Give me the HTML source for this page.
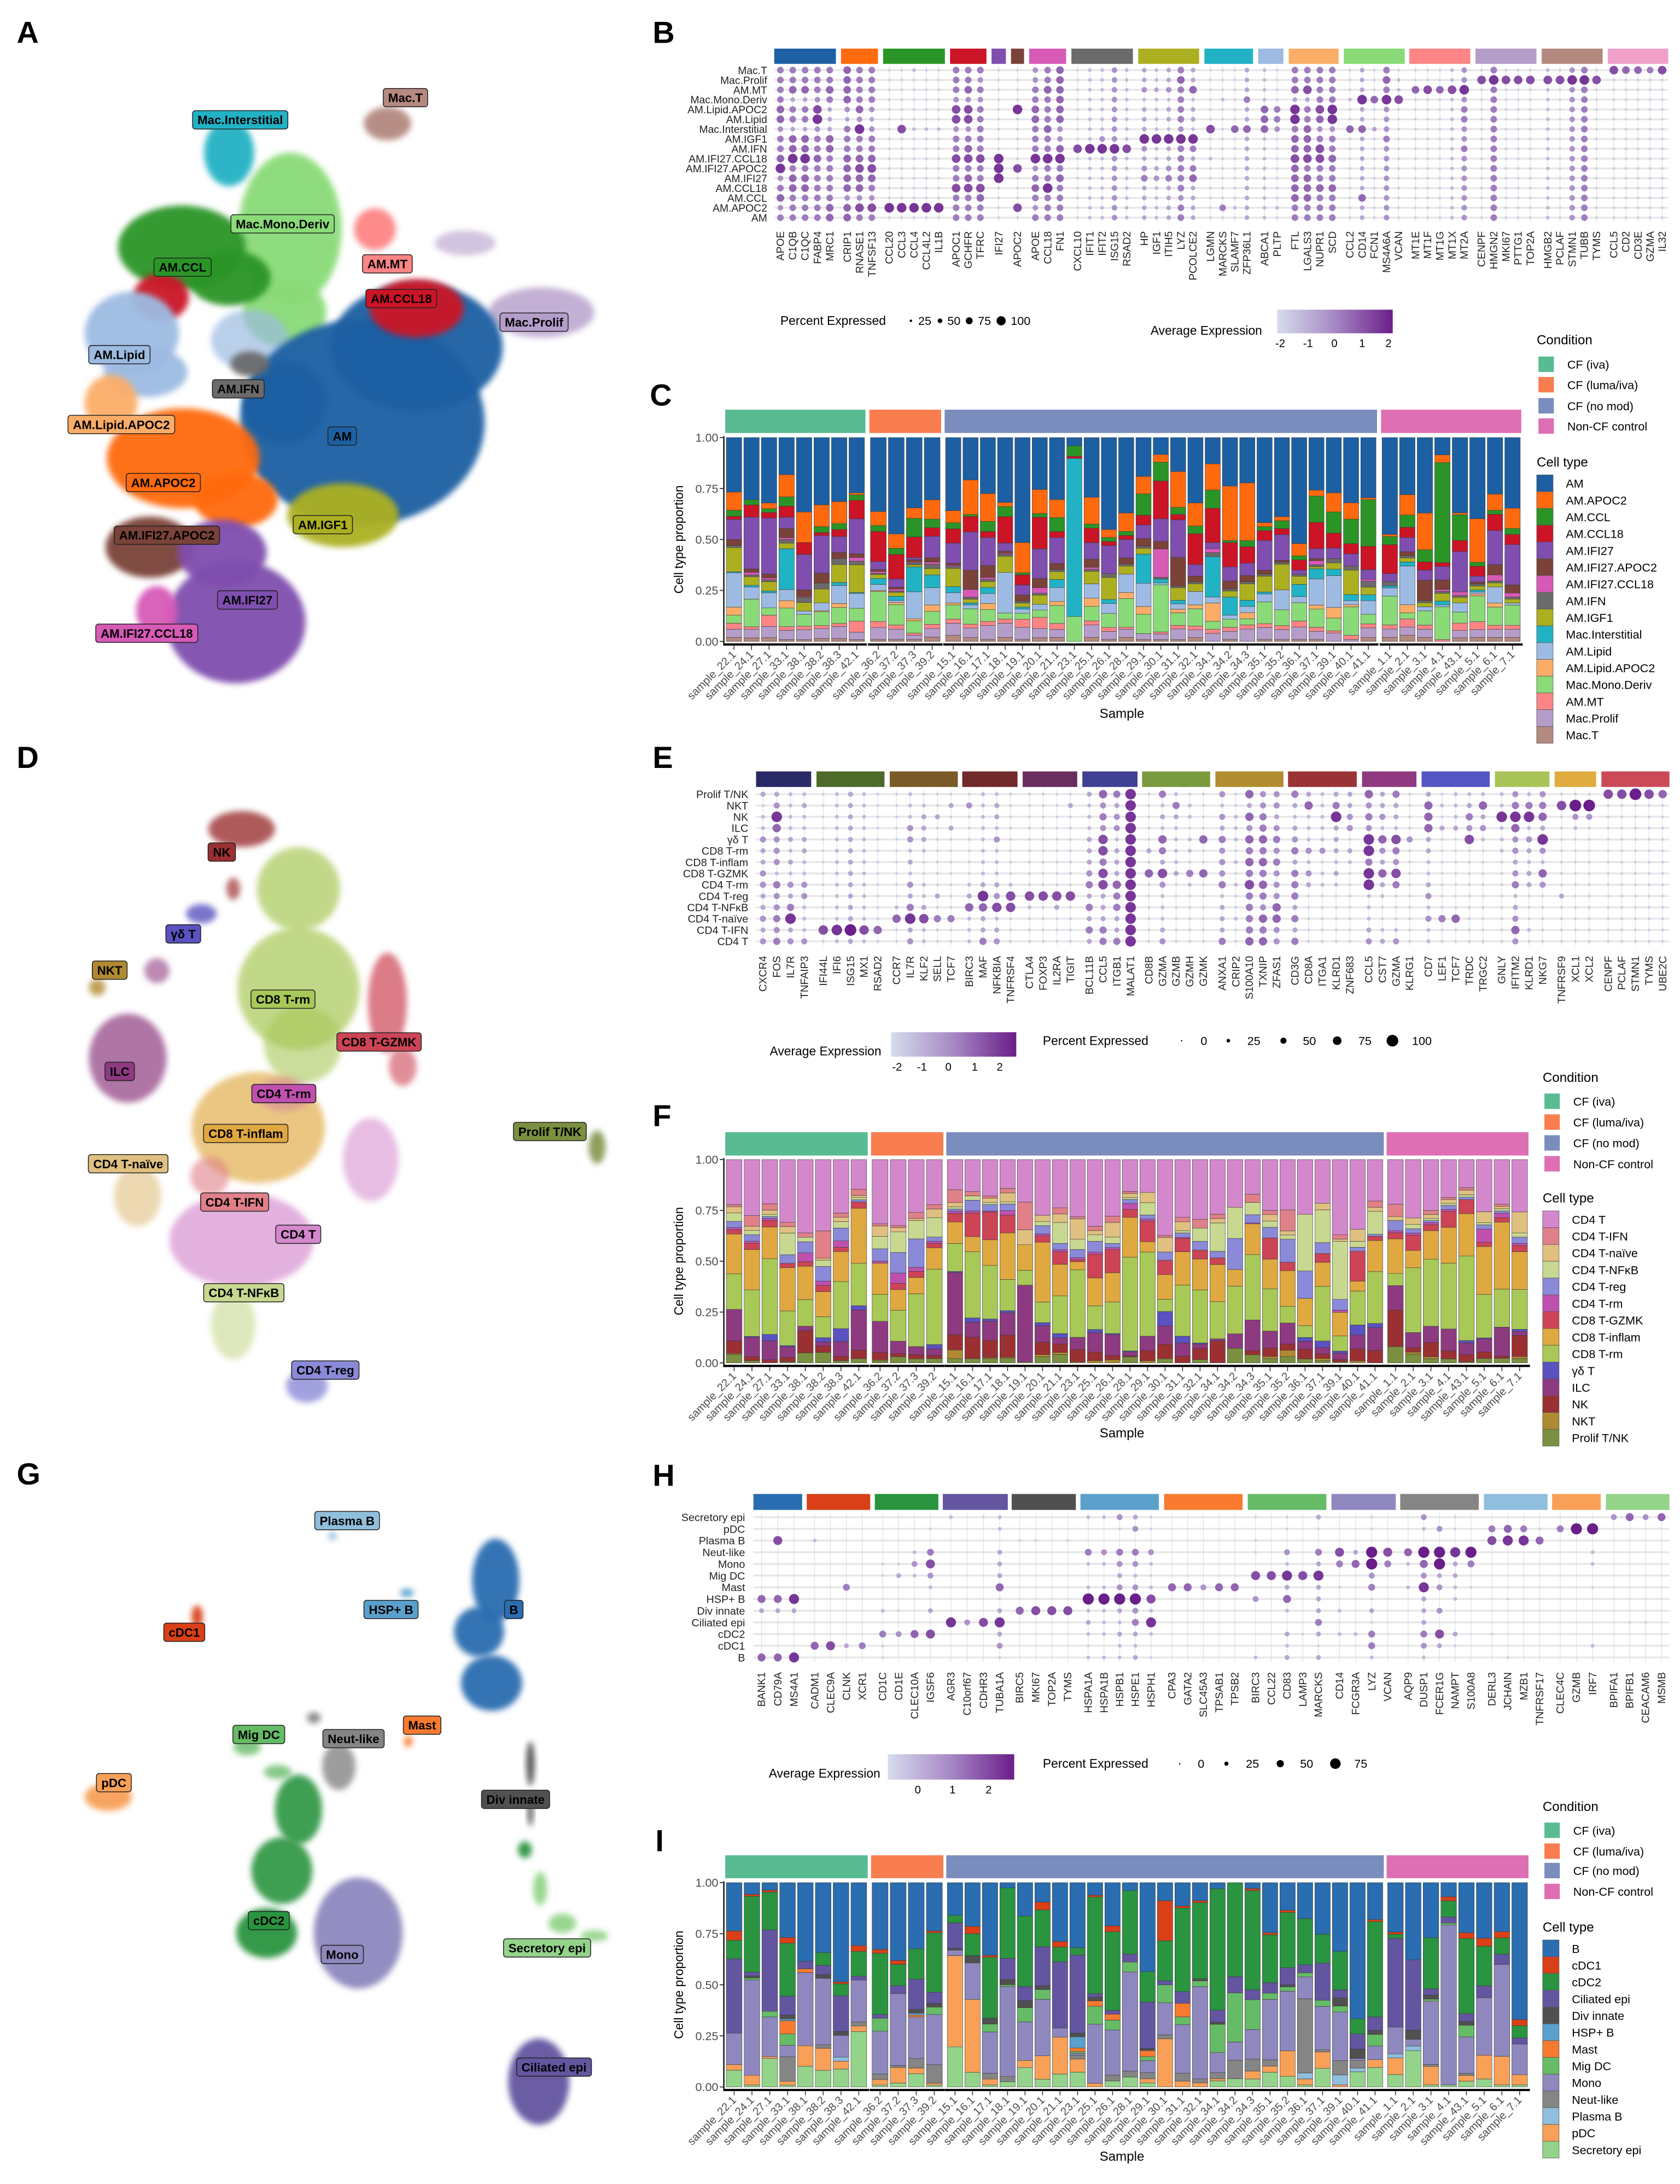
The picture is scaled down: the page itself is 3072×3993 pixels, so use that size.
<!DOCTYPE html>
<html><head><meta charset="utf-8"><title>Figure</title>
<style>
html,body{margin:0;padding:0;background:#fff}
svg{display:block}
text{font-family:"Liberation Sans",sans-serif}
</style></head>
<body>
<svg id="fig" xmlns="http://www.w3.org/2000/svg" width="3072" height="3993" viewBox="0 0 1209.9 1572.7" preserveAspectRatio="none">
<defs>
<filter id="blur" x="-50%" y="-50%" width="200%" height="200%"><feGaussianBlur stdDeviation="2.2"/></filter>
<linearGradient id="grad" x1="0" x2="1" y1="0" y2="0">
<stop offset="0" stop-color="#d6dcec"/><stop offset="0.5" stop-color="#a688c4"/><stop offset="1" stop-color="#6a1e88"/>
</linearGradient>
</defs>
<rect width="1209.9" height="1572.7" fill="#fff"/>
<text x="12" y="31" font-size="22" font-weight="bold">A</text>
<text x="470" y="31" font-size="22" font-weight="bold">B</text>
<text x="468" y="292" font-size="22" font-weight="bold">C</text>
<text x="12" y="553" font-size="22" font-weight="bold">D</text>
<text x="470" y="553" font-size="22" font-weight="bold">E</text>
<text x="470" y="811" font-size="22" font-weight="bold">F</text>
<text x="12" y="1069" font-size="22" font-weight="bold">G</text>
<text x="470" y="1070" font-size="22" font-weight="bold">H</text>
<text x="472" y="1333" font-size="22" font-weight="bold">I</text>
</svg>
<script>
// ================= DATA =================
const samples = ["22.1","24.1","27.1","33.1","38.1","38.2","38.3","42.1","36.2","37.2","37.3","39.2","15.1","16.1","17.1","18.1","19.1","20.1","21.1","23.1","25.1","26.1","28.1","29.1","30.1","31.1","32.1","34.1","34.2","34.3","35.1","35.2","36.1","37.1","39.1","40.1","41.1","1.1","2.1","3.1","4.1","43.1","5.1","6.1","7.1"];
const groupSizes = [8,4,25,8];
const conditions = ["CF (iva)","CF (luma/iva)","CF (no mod)","Non-CF control"];
const condColors = ["#59bb92","#f87d4f","#7b8dbd","#de6fb4"];
const yTicks = [0,0.25,0.5,0.75,1];
const yTickLabels = ["0.00","0.25","0.50","0.75","1.00"];

// Panel C (bottom-up)
const cNames = ["Mac.T","Mac.Prolif","AM.MT","Mac.Mono.Deriv","AM.Lipid.APOC2","AM.Lipid","Mac.Interstitial","AM.IGF1","AM.IFN","AM.IFI27.CCL18","AM.IFI27.APOC2","AM.IFI27","AM.CCL18","AM.CCL","AM.APOC2","AM"];
const cColors = ["#b48980","#b59dca","#fd8585","#8adb78","#fbad68","#9dbbe2","#22b2c5","#acb020","#6b6b6b","#d75ab7","#7a4239","#7f4eae","#cb1425","#2a9526","#ff6a0e","#1d5fa3"];
const cMacT = [.02,.02,.02,.01,.01,.015,.015,.01, .01,.01,.01,.02, .03,.02,.01,.02,.01,.02,.02,0,.02,.01,.02,.01,.01,.01,.02,0,.01,0,.01,.01,.01,.01,0,0,.02, .02,.03,.02,0,.02,.02,.02,.02];
const cProlif = [.04,.05,.06,.05,.06,.05,.06,.04, .06,.05,.02,.04, .06,.05,.07,.07,.06,.05,.04,0,.06,.04,.04,.03,.03,.06,.04,.04,.04,.06,.06,.05,.06,.04,.04,.01,.05, .04,.04,.04,0,.04,.04,.04,.04];
const cMT = [.03,.015,.06,.02,.02,.015,.015,.06, .03,.02,.01,.02, .02,.02,.02,.02,.04,.06,.03,0,.02,.02,.01,0,.01,.02,.02,.02,.02,.02,.02,.02,.03,.02,.01,.02,.02, .02,.04,.02,.01,.04,.04,.02,.02];
const cMono = [.04,.16,.04,.1,.07,.07,.08,.07, .15,.1,.06,.06, .07,.08,.06,.03,.03,.04,.09,.12,.07,.07,.14,.1,.25,.07,.09,.04,.04,.03,.11,.08,.09,.09,.06,.14,.05, .14,.03,.07,.17,.06,.13,.09,.1];
const cLipA = [.04,0,0,.04,0,.005,.02,0, .005,.01,.01,.03, .01,0,.03,0,0,0,.02,0,.04,0,.03,.04,0,.02,.02,.09,0,.03,0,0,0,.02,.05,.01,0, 0,.04,0,0,0,.01,.02,0];
const cLipid = [.17,.07,.08,.06,.02,.04,.09,.08, .03,.01,.13,.08, .05,.02,.05,.2,.02,.03,.07,0,.07,.05,.09,.12,.01,.03,.07,.03,.02,.03,.04,.1,.03,.13,.15,.02,.07, .04,.19,.02,.01,.05,.01,.08,.01];
const cInter = [.005,.01,.01,.22,0,0,.015,.005, .03,.02,.12,.06, .03,.01,.03,0,.01,0,.04,.76,0,.02,0,.15,.02,.02,0,.2,.09,.03,.01,0,.06,.05,.03,.03,.03, .01,.02,0,.02,0,.01,0,0];
const cIGF1 = [.12,.05,.05,.03,.05,.07,.09,.15, .02,.02,.01,.03, .09,.02,.03,.08,.02,.05,.04,0,.06,.11,.04,.03,0,.07,.04,0,.03,.08,.08,.13,.04,.01,.03,.12,.04, 0,.02,.02,.04,.03,.02,.02,.02];
const cIFN = [.01,.01,.01,.02,.03,.03,.03,.02, .005,.005,.01,.02, .01,.01,.01,.01,.01,.01,.01,0,.01,.02,.01,.01,.01,.01,.01,.02,.01,.01,.01,.01,.01,.01,.02,.02,.03, .02,.01,.01,.01,.01,.01,.01,.01];
const cIFI27CCL18 = [0,.015,.01,.01,.005,0,0,.02, .01,.01,.005,.01, .005,.04,.01,.005,0,.03,0,0,.01,0,0,0,.15,0,0,.02,0,0,0,0,0,.02,0,0,.01, 0,0,0,.01,.02,0,.03,.02];
const cIFI27APOC2 = [.03,.02,.02,.05,.04,.05,.03,.02, .01,.01,.01,.02, .01,.1,.06,.01,.03,.05,.03,0,.04,0,.03,.04,.04,.16,.03,0,.04,.03,.02,.01,0,.01,0,0,0, 0,.02,.1,.05,0,.01,.05,.04];
const cIFI27 = [.1,.3,.3,.06,.21,.19,.08,.19, .04,.04,.01,.1, .1,.2,.14,.04,.05,.16,.13,0,.08,.14,.09,.07,.12,.21,.06,.03,.07,.06,.15,.13,.02,.05,.05,.06,.05, .04,.07,.05,.07,.22,.03,.17,.2];
const cCCL18 = [.015,.07,.03,.06,.07,.015,.035,.1, .15,.12,.1,.04, .07,.08,.03,.13,.05,.17,.03,.01,.07,.02,.02,.05,.2,.03,.16,.17,.12,.08,.05,.03,.05,.13,.07,.05,.12, .14,.05,.04,.02,.06,.05,.08,.05];
const cCCL = [.03,.03,.02,.05,0,.03,.03,.03, .03,.03,.09,.04, .03,.01,.05,.05,.01,.02,.07,.05,.02,.02,.02,.11,.1,.04,.04,.09,.01,.03,.02,.04,.02,.13,.1,.12,.24, .04,.06,.06,.52,.14,.02,.02,.03];
const cAPOC2 = [.09,0,.03,.12,.18,.11,.11,.01, .07,.07,.05,.09, .06,.18,.14,.02,.15,.13,.09,0,.13,.04,.09,.09,.04,.2,.12,.13,.27,.28,.02,.02,.06,.03,.09,.08,.01, .01,.1,.18,.04,.01,.22,.08,.1];
const cAM = [.27,.36,.35,.2,.44,.34,.32,.3, .37,.47,.34,.29, .36,.22,.28,.32,.52,.28,.31,.04,.29,.46,.37,.2,.09,.19,.34,.13,.24,.22,.43,.4,.52,.26,.26,.32,.31, .47,.28,.37,.09,.41,.41,.28,.35];
const cSeries = [cMacT,cProlif,cMT,cMono,cLipA,cLipid,cInter,cIGF1,cIFN,cIFI27CCL18,cIFI27APOC2,cIFI27,cCCL18,cCCL,cAPOC2,cAM];

// Panel F (bottom-up)
const fNames = ["Prolif T/NK","NKT","NK","ILC","γδ T","CD8 T-rm","CD8 T-inflam","CD8 T-GZMK","CD4 T-rm","CD4 T-reg","CD4 T-NFκB","CD4 T-naïve","CD4 T-IFN","CD4 T"];
const fColors = ["#7a9040","#b08a30","#9b3033","#8e3a80","#5a52c0","#a8c858","#e0a840","#cc4455","#c050b0","#8a8ad8","#c8d890","#e0c080","#e08088","#d488cc"];
const fProlif = [.04,.01,0,.005,.045,.05,.01,.02, .01,.03,.02,.02, .02,.02,.02,.02,.005,.03,.04,0,0,0,.03,0,.02,0,.015,0,.07,.04,.02,.03,.02,.01,.005,0,0, .08,.04,.02,.02,.005,.02,.02,.02];
const fNKT = [.005,0,0,0,0,0,0,0, .005,0,0,0, .04,0,.005,.005,0,.01,.01,.005,.01,.015,0,.01,0,0,0,0,0,0,.01,.03,0,.01,0,.01,0, 0,.01,.01,0,0,0,0,.01];
const fNK = [.06,.02,.015,.02,.1,.03,.02,.04, .035,.015,.02,.015, .07,.1,.08,.1,0,.06,.04,.06,.04,.02,.005,.05,.07,.03,.05,.1,0,.02,.04,.03,.05,.02,.01,.06,.06, .18,.02,.07,.04,.03,.03,.01,.1];
const fILC = [.15,.09,.09,.05,.02,.02,.07,.19, .15,.06,.04,.03, .29,.07,.09,.1,.36,.08,.03,.06,.09,.1,.02,.07,.09,.06,.02,.01,.07,.15,.08,.1,.04,.03,.03,.07,.11, .12,.07,.08,.11,.05,.06,.13,.02];
const fGD = [0,.005,.03,.005,0,.02,.06,.02, 0,0,0,.02, .005,.02,.01,.01,0,.015,.02,0,.015,.005,.005,0,.07,.03,.005,0,0,0,0,0,.02,.03,.01,.05,.02, 0,0,0,0,.01,.005,0,.01];
const fRm8 = [.17,.22,.36,.16,.12,.1,.22,.2, .13,.15,.26,.35, .13,.31,.25,.14,.07,.1,.18,.33,.11,.15,.47,.41,.06,.23,.24,.17,.23,.32,.2,.08,.06,.25,.07,.17,.25, .06,.3,.33,.33,.36,.2,.17,.19];
const fInflam = [.19,.19,.15,.2,.15,.12,.14,.26, .15,.1,.08,.1, .1,.07,.12,.21,.12,.29,.15,.04,.13,.14,.2,.05,.12,.15,.14,.17,.08,.15,.14,.17,.14,.11,.11,.05,.15, .17,.08,.14,.18,.18,.22,.3,.18];
const fGZMK = [.02,.03,.03,.02,.02,.03,.02,.03, 0,.03,.03,.02, .04,.11,.13,.08,0,.03,.06,.01,.11,.11,.04,.1,.07,.06,.04,.03,0,0,.1,.04,0,.04,0,.15,.02, .03,.07,.03,.08,.06,.02,.02,.03];
const fRm4 = [.01,.01,.01,0,.04,.02,.03,0, .01,.05,.02,.01, .01,.01,.005,.02,0,.01,.01,.01,.01,.01,.03,.01,0,.005,0,0,0,.005,0,0,0,0,.01,0,0, .01,.01,.01,.01,0,.06,.02,.01];
const fReg = [.03,.03,.01,.04,.05,.07,.06,.01, .06,.1,.14,.02, .01,.05,.03,.03,0,.04,.03,.04,.05,.02,.02,.02,.04,.02,.04,.03,.15,.04,.05,.11,.14,.05,.05,.02,.01, .05,.02,.01,.02,.01,.02,.01,.03];
const fNFkB = [.04,.02,.01,.1,.02,.03,.03,.01, .06,.1,.09,.09, .01,.02,.01,.01,0,.02,.1,.05,.03,.03,.01,.06,0,.01,.06,.13,.15,.06,.03,.02,.29,.15,.27,.03,.11, 0,.02,.01,.01,.01,.01,.01,.02];
const fNaive = [.03,.02,.02,.03,0,.01,.02,.01, .05,.02,.01,.04, .02,0,.02,.04,.07,.03,.04,.1,.02,.07,.02,.05,.07,.04,0,.02,0,0,.03,.02,0,.03,.01,.06,.02, .02,.03,.02,.02,.02,.05,.01,.1];
const fIFN = [.01,.05,.03,.02,.02,.13,.02,.03, .01,.01,.03,.02, .06,.02,.01,.02,.13,0,.03,.01,.02,.03,.01,0,.01,.02,.04,.02,0,.04,.02,.1,0,0,.02,0,.03, .06,0,.02,.01,.01,0,.01,0];
const fCD4T = [.215,.265,.21,.29,.33,.34,.25,.14, .31,.32,.26,.21, .14,.15,.17,.13,.2,.27,.23,.28,.31,.27,.16,.16,.37,.26,.27,.25,.23,.17,.24,.24,.28,.2,.35,.35,.2, .22,.27,.25,.19,.12,.24,.2,.25];
const fSeries = [fProlif,fNKT,fNK,fILC,fGD,fRm8,fInflam,fGZMK,fRm4,fReg,fNFkB,fNaive,fIFN,fCD4T];

// Panel I (bottom-up)
const iNames = ["Secretory epi","pDC","Plasma B","Neut-like","Mono","Mig DC","Mast","HSP+ B","Div innate","Ciliated epi","cDC2","cDC1","B"];
const iColors = ["#94d48a","#f8a058","#90bedd","#858585","#8e88be","#66bb66","#f87a30","#5ba0cc","#505050","#6455a0","#2a9441","#d94018","#2a6db0"];
const iSec = [.09,.01,.15,.01,.11,.09,.09,.29, .01,.02,.07,.01, .22,.08,.01,.03,.11,.04,.07,.08,0,.03,.05,.02,0,0,0,.03,.04,.04,.07,.05,.01,.09,0,.08,.1, .06,.16,.01,.01,.03,.04,.01,.01];
const iPDC = [.03,.05,.01,.02,.11,.12,.04,.03, .03,.08,.03,.01, .5,.4,.03,0,.04,.12,.2,.07,.02,0,0,.02,.24,.03,.02,.01,0,.04,.03,.12,.03,.08,.01,0,.04, .08,0,.09,0,.03,.12,.14,.05];
const iPlasma = [0,0,0,0,0,0,.02,0, 0,0,0,0, 0,0,0,0,0,0,0,0,0,0,0,0,0,0,0,0,0,0,0,0,.03,0,.05,.02,0, .02,.02,0,0,0,0,0,0];
const iNeut = [0,0,0,.13,0,.02,0,.02, .03,.01,.05,.1, 0,0,.03,.03,0,0,0,.02,0,.03,.03,.03,.02,.04,.02,.03,.09,.06,.03,0,.37,.01,.07,.04,0, 0,0,.01,0,.01,0,0,0];
const iMono = [.17,.49,.21,.06,.39,.36,.11,.22, .23,.37,.22,.27, .03,.2,.21,.51,.22,.29,.05,.01,.33,.23,.5,.06,.16,.25,.46,.1,.09,.15,.29,.28,.11,.21,.24,.01,.07, .13,.03,.31,.79,.19,.29,.45,.15];
const iMig = [0,.01,.03,.06,0,0,0,0, .07,0,0,.04, 0,0,.04,.01,.08,.05,0,.01,.1,.05,.05,.02,.09,.04,.03,.14,.24,.15,.03,.02,.02,.03,.03,0,.06, 0,0,.01,.01,.06,0,0,0];
const iMast = [0,0,0,.07,.02,0,0,0, 0,0,.01,0, 0,0,0,0,0,0,0,.02,.03,.03,0,.03,0,.07,0,0,0,0,0,0,0,0,0,0,0, 0,0,0,0,0,0,0,0];
const iHSP = [0,0,0,.01,0,0,0,0, 0,0,.01,0, 0,0,0,0,0,0,0,.06,0,0,0,0,0,0,0,0,0,0,0,0,0,0,0,0,0, 0,0,0,0,0,0,0,0];
const iDiv = [0,.01,0,.02,0,.02,.02,0, 0,0,.02,.02, .01,.04,.03,.03,.04,.02,0,.02,.02,0,0,.01,0,0,.01,.01,0,0,0,.01,0,0,.04,.05,.02, 0,.04,.02,0,.02,0,0,0];
const iCil = [.4,.02,.43,.1,.04,.05,.18,.02, .02,.04,.16,.06, .14,0,0,.12,.08,.2,.36,.42,.02,.02,.04,.23,.02,.06,0,.06,.08,.05,.05,.08,.04,.18,.04,.08,.07, .43,.31,.03,.03,.04,.06,.05,.03];
const iCDC2 = [.1,.39,.2,.28,0,.07,.06,.13, .33,.11,.16,.32, .04,.12,.31,.4,.4,.19,.08,.04,.54,.4,.32,.15,.2,.43,.38,.6,.46,.5,.23,.26,.23,.14,.19,.08,.49, .02,0,.25,.08,.39,.2,.08,.06];
const iCDC1 = [.05,.01,.01,.03,0,0,.01,.03, .02,.02,0,.01, 0,.04,.01,0,0,.04,.03,0,.01,.03,0,0,.2,.01,.01,0,0,.01,.01,.01,0,0,0,0,.01, .01,0,0,.02,.03,.04,.03,.03];
const iB = [.26,.06,.04,.29,.42,.38,.5,.33, .36,.4,.35,.26, .18,.24,.37,.03,.19,.1,.32,.35,.07,.22,.04,.44,.09,.12,.09,.03,0,.03,.24,.13,.18,.25,.34,.72,.19, .24,.34,.27,.07,.26,.28,.24,.67];
const iSeries = [iSec,iPDC,iPlasma,iNeut,iMono,iMig,iMast,iHSP,iDiv,iCil,iCDC2,iCDC1,iB];

// Panel B dot plot
const bRows = ["Mac.T","Mac.Prolif","AM.MT","Mac.Mono.Deriv","AM.Lipid.APOC2","AM.Lipid","Mac.Interstitial","AM.IGF1","AM.IFN","AM.IFI27.CCL18","AM.IFI27.APOC2","AM.IFI27","AM.CCL18","AM.CCL","AM.APOC2","AM"];
const bGenes = ["APOE","C1QB","C1QC","FABP4","MRC1","CRIP1","RNASE1","TNFSF13","CCL20","CCL3","CCL4","CCL4L2","IL1B","APOC1","GCHFR","TFRC","IFI27","APOC2","APOE","CCL18","FN1","CXCL10","IFIT1","IFIT2","ISG15","RSAD2","HP","IGF1","ITIH5","LYZ","PCOLCE2","LGMN","MARCKS","SLAMF7","ZFP36L1","ABCA1","PLTP","FTL","LGALS3","NUPR1","SCD","CCL2","CD14","FCN1","MS4A6A","VCAN","MT1E","MT1F","MT1G","MT1X","MT2A","CENPF","HMGN2","MKI67","PTTG1","TOP2A","HMGB2","PCLAF","STMN1","TUBB","TYMS","CCL5","CD2","CD3E","GZMA","IL32"];
const bVals = ["5555664556845645","5563553668566555","5563553668566555","5554784556555555","5565333665555566",
"6666435556666466","5555648556766475","5555434556765475",
"1111111111111181","1111117111111181","2111112111111181","1111112111111181","1111112111111181",
"5554774557557555","5564774567567555","5454555557557655",
"1111111118881111","1111811111711171",
"4455665558456545","5565556558558555","6666664468565555",
"1111111171111111","2222222282222222","2222222482222222","4444444484444444","2222222272222222",
"3342333843453333","2232222822342222","3342332833453333","5655554855555455","3362332853563333",
"1111117112111111","1112111111111151","1111116111111121","3335336333333333",
"2222666222222222","1111554111111121",
"5563885667666655","5573556667566655","5555764577556555","5555884556556555",
"1112116111111111","3338336333333633","1116113111111111","5658444544444444","1227111111111111",
"1161111111111111","1171111111111111","1161111111111111","2272222222222222","4484554454444444",
"1711111111111111","5855555555555555","1711111111111111","1711111111111111","1711111111111111",
"2722222222222222","1711111111111111","4844444444444444","5855555555555555","1711111111111111",
"7111111111111111","6111111111111111","6111111111111111","5111111111111111","7111111111111111"];
const bGroupSizes = [5,3,5,3,1,1,3,5,5,4,2,4,5,5,5,5,5];
const bGroupColors = ["#1d5fa3","#ff6a0e","#2a9526","#cb1425","#7f4eae","#7a4239","#d75ab7","#6b6b6b","#acb020","#22b2c5","#9dbbe2","#fbad68","#8adb78","#fd8585","#b59dca","#b48980","#f0a0c8"];

// Panel E dot plot
const eRows = ["Prolif T/NK","NKT","NK","ILC","γδ T","CD8 T-rm","CD8 T-inflam","CD8 T-GZMK","CD4 T-rm","CD4 T-reg","CD4 T-NFκB","CD4 T-naïve","CD4 T-IFN","CD4 T"];
const eGenes = ["CXCR4","FOS","IL7R","TNFAIP3","IFI44L","IFI6","ISG15","MX1","RSAD2","CCR7","IL7R","KLF2","SELL","TCF7","BIRC3","MAF","NFKBIA","TNFRSF4","CTLA4","FOXP3","IL2RA","TIGIT","BCL11B","CCL5","ITGB1","MALAT1","CD8B","GZMA","GZMB","GZMH","GZMK","ANXA1","CRIP2","S100A10","TXNIP","ZFAS1","CD3G","CD8A","ITGA1","KLRD1","ZNF683","CCL5","CST7","GZMA","KLRG1","CD7","LEF1","TCF7","TRDC","TRGC2","GNLY","IFITM2","KLRD1","NKG7","TNFRSF9","XCL1","XCL2","CENPF","PCLAF","STMN1","TYMS","UBE2C"];
const eVals = ["31224334433434","34864442544545","22223232435834","23223322442224",
"11111111111171","22222222222282","33333333333393","22222222222272","11111111111161",
"11111111112611","22244232435834","12333211223722","11311111131511","13131111111511",
"14111111236222","22222222386335","23324222347234","11111111277111",
"11111111172111","11111111171111","11111111173111","13111111171111",
"32223334535353","64547757733355","53442333655335","88888888888888",
"11111316111111","52326537422234","25322223111111","12212215211111","11116116111111",
"42435444523335","11222121211211","63646565755556","44556565654656","44345454446644",
"53234535553535","36222424311111","22222412211111","35833323211111","33441321111111",
"64548858822234","33426436321123","53327547511124","11114111111111",
"36663322342422","12131111111511","22231111111611","23547111111111","26342111111111",
"22822211111111","45864434523464","25824323311121","45638426411111",
"17111111131111","19421111111111","19411111111111",
"71111111111111","71111111111111","91111111111111","71111111111111","61111111111111"];
const eGroupSizes = [4,5,5,4,4,4,5,5,5,4,5,4,3,5];
const eGroupColors = ["#2a2a66","#4e6a2a","#7a5a28","#722a2a","#6a2e5e","#3f3f93","#7a9a40","#b08d30","#9a3336","#8f3a80","#5555c4","#a8c458","#e0ac40","#cc4a58"];

// Panel H dot plot
const hRows = ["Secretory epi","pDC","Plasma B","Neut-like","Mono","Mig DC","Mast","HSP+ B","Div innate","Ciliated epi","cDC2","cDC1","B"];
const hGenes = ["BANK1","CD79A","MS4A1","CADM1","CLEC9A","CLNK","XCR1","CD1C","CD1E","CLEC10A","IGSF6","AGR3","C10orf67","CDHR3","TUBA1A","BIRC5","MKI67","TOP2A","TYMS","HSPA1A","HSPA1B","HSPB1","HSPE1","HSPH1","CPA3","GATA2","SLC45A3","TPSAB1","TPSB2","BIRC3","CCL22","CD83","LAMP3","MARCKS","CD14","FCGR3A","LYZ","VCAN","AQP9","DUSP1","FCER1G","NAMPT","S100A8","DERL3","JCHAIN","MZB1","TNFRSF17","CLEC4C","GZMB","IRF7","BPIFA1","BPIFB1","CEACAM6","MSMB"];
const hVals = ["0000000630006","0070000630006","0000000830008",
"0020000000060","0000000000070","0000005000030","0000000000050",
"0000110020511","0000130010400","0002420000600","0105742030700",
"2000000008000","0000000004000","1000000007000","2203336138341",
"0010000060000","0010000070000","0000000070000","0010000070000",
"2005202923212","2004202922202","4105434932322","3405424945323","1104212728201",
"0000006000000","0000006000000","0000004000000","0000006000000","0000006000000",
"1011070400002","0000070000000","1104283620323","0000070000100","3105383335313",
"0007501020200","0003600000200","1109945131552","0007500000000",
"0006202000000","4209648333542","0409934040730","1108332200310","0009501000000",
"0570000000100","0680000100001","0580000000000","0160000000000",
"0500000000000","0900000000000","0902201000020",
"4000000000000","6000000001000","4000000001000","6000000000000"];
const hGroupSizes = [3,4,4,4,4,5,5,5,4,5,4,3,4];
const hGroupColors = ["#2a6db0","#d94018","#2a9441","#6455a0","#505050","#5ba0cc","#f87a30","#66bb66","#8e88be","#858585","#90bedd","#f8a058","#94d48a"];

// ================= HELPERS =================
const NS = "http://www.w3.org/2000/svg";
const svg = document.getElementById("fig");
function mk(tag, attrs, parent){
  const e = document.createElementNS(NS, tag);
  for (const k in attrs) e.setAttribute(k, attrs[k]);
  (parent || svg).appendChild(e);
  return e;
}
function grp(name){
  const g = mk("g", {});
  
  
  return g;
}
function lerp(a,b,t){return Math.round(a+(b-a)*t);}
function expColor(v){
  const t = Math.max(0, Math.min(1, v/9));
  const s0=[214,222,236], s1=[166,136,196], s2=[106,30,138];
  let c;
  if (t < 0.5){ const u=t/0.5; c=[lerp(s0[0],s1[0],u),lerp(s0[1],s1[1],u),lerp(s0[2],s1[2],u)]; }
  else { const u=(t-0.5)/0.5; c=[lerp(s1[0],s2[0],u),lerp(s1[1],s2[1],u),lerp(s1[2],s2[2],u)]; }
  return "rgb("+c.join(",")+")";
}

// ================= STACKED BAR =================
function drawStacked(cfg){
  const g = grp(cfg.name);
  const H = cfg.yBot - cfg.yTop;
  const yS = v => cfg.yBot - v*H;
  let idx = 0;
  cfg.facets.forEach((f, fi) => {
    const n = groupSizes[fi];
    const pitch = (f[1]-f[0]) / n;
    const strip = mk("rect", {x:f[0], y:cfg.condY0, width:f[1]-f[0], height:cfg.condY1-cfg.condY0, fill:condColors[fi]}, g);
    
    
    const axl = mk("line", {x1:f[0]-1, x2:f[1]+1, y1:cfg.yBot+2.2, y2:cfg.yBot+2.2, stroke:"#000", "stroke-width":1.6}, g);
    
    
    for (let i=0;i<n;i++){
      const xc = f[0] + pitch*(i+0.5);
      let total = 0;
      cfg.series.forEach(s => total += s[idx]);
      let acc = 0;
      cfg.series.forEach((s, si) => {
        const v = s[idx] / total;
        if (v > 0){
          const r = mk("rect", {x:xc-pitch*0.44, y:yS(acc+v), width:pitch*0.88, height:v*H, fill:cfg.colors[si], stroke:"#3a3a3a", "stroke-width":0.25}, g);
          
          
        }
        acc += v;
      });
      const tk = mk("line", {x1:xc, x2:xc, y1:cfg.yBot+3, y2:cfg.yBot+6, stroke:"#333", "stroke-width":0.6}, g);
      
      
      const lb = mk("text", {x:xc+2, y:cfg.yBot+10, "font-size":8, fill:"#4d4d4d", "text-anchor":"end", transform:"rotate(-45 "+(xc+2)+" "+(cfg.yBot+10)+")"}, g);
      lb.textContent = "sample_" + samples[idx];
      
      
      idx++;
    }
  });
  const ax = cfg.facets[0][0]-1;
  const yl = mk("line", {x1:ax, x2:ax, y1:cfg.yTop-1, y2:cfg.yBot+3, stroke:"#000", "stroke-width":0.9}, g);
  
  
  yTicks.forEach((t, ti) => {
    const tk = mk("line", {x1:ax-3, x2:ax, y1:yS(t), y2:yS(t), stroke:"#333", "stroke-width":0.7}, g);
    
    
    const lb = mk("text", {x:ax-4, y:yS(t)+3, "font-size":8.5, fill:"#4d4d4d", "text-anchor":"end"}, g);
    lb.textContent = yTickLabels[ti];
    
    
  });
  const yc = (cfg.yTop+cfg.yBot)/2;
  const yt = mk("text", {x:492, y:yc, "font-size":9, fill:"#000", "text-anchor":"middle", transform:"rotate(-90 492 "+yc+")"}, g);
  yt.textContent = "Cell type proportion";
  
  
  const xt = mk("text", {x:cfg.xTitleX, y:cfg.xTitleY, "font-size":9.5, fill:"#000", "text-anchor":"middle"}, g);
  xt.textContent = "Sample";
  
  
  const L = cfg.legend;
  const ct = mk("text", {x:L.x, y:L.condTitleY, "font-size":9.5, fill:"#000"}, g);
  ct.textContent = "Condition";
  
  
  conditions.forEach((c, ci) => {
    const cy = L.condY[ci];
    const sw = mk("rect", {x:L.x+1, y:cy-5.8, width:11.6, height:11.6, fill:condColors[ci], stroke:"#fff", "stroke-width":0.5}, g);
    
    
    const tx = mk("text", {x:L.x+22, y:cy+3.2, "font-size":8.5, fill:"#000"}, g);
    tx.textContent = c;
    
    
  });
  const tt = mk("text", {x:L.x, y:L.typeTitleY, "font-size":9.5, fill:"#000"}, g);
  tt.textContent = "Cell type";
  
  
  const nn = cfg.names.length;
  for (let k=0;k<nn;k++){
    const si = nn-1-k;
    const cy = L.typeY0 + k*L.typeStep;
    const sw = mk("rect", {x:L.x, y:cy-L.typeStep/2, width:11.8, height:L.typeStep, fill:cfg.colors[si], stroke:"#555", "stroke-width":0.3}, g);
    
    
    const tx = mk("text", {x:L.x+21, y:cy+3.2, "font-size":8.5, fill:"#000"}, g);
    tx.textContent = cfg.names[si];
    
    
  }
}

drawStacked({name:"panel-c-stacked-bars", facets:[[522.3,623.3],[626.1,677.8],[680.3,991.7],[994.6,1095.6]],
  yTop:315.1, yBot:461.9, condY0:295, condY1:311.8, series:cSeries, colors:cColors, names:cNames,
  xTitleX:808, xTitleY:517,
  legend:{x:1106.7, condTitleY:248, condY:[262.3,277,292.2,306.8], typeTitleY:336, typeY0:348, typeStep:12.08}});
drawStacked({name:"panel-f-stacked-bars", facets:[[522.3,624.9],[627.3,679.4],[681.5,996.6],[998.6,1100.8]],
  yTop:835, yBot:981.4, condY0:815.3, condY1:832.1, series:fSeries, colors:fColors, names:fNames,
  xTitleX:808, xTitleY:1035,
  legend:{x:1111, condTitleY:779, condY:[793,808,823,838], typeTitleY:866, typeY0:878, typeStep:12.1}});
drawStacked({name:"panel-i-stacked-bars", facets:[[522.3,624.9],[627.3,679.4],[681.5,996.6],[998.6,1100.8]],
  yTop:1355.7, yBot:1502.8, condY0:1336, condY1:1352.5, series:iSeries, colors:iColors, names:iNames,
  xTitleX:808, xTitleY:1556,
  legend:{x:1111, condTitleY:1304, condY:[1318,1333,1347,1362], typeTitleY:1391, typeY0:1403, typeStep:12.08}});

// ================= DOT PLOTS =================
function drawDot(cfg){
  const g = grp(cfg.name);
  const nr = cfg.rows.length;
  const xs = [];
  cfg.groupSizes.forEach((n, k) => {
    const r = cfg.groupX[k];
    const w = (r[1]-r[0])/n;
    for (let i=0;i<n;i++) xs.push(r[0] + w*(i+0.5));
    const bar = mk("rect", {x:r[0], y:cfg.barY0, width:r[1]-r[0], height:cfg.barY1-cfg.barY0, fill:cfg.groupColors[k]}, g);
    
    
  });
  const xL = cfg.groupX[0][0], xR = cfg.groupX[cfg.groupX.length-1][1];
  for (let r=0;r<nr;r++){
    const y = cfg.rowY0 + r*cfg.rowStep;
    const gl = mk("line", {x1:xL, x2:xR, y1:y, y2:y, stroke:"#e6e6e6", "stroke-width":1.3}, g);
    
    
    const lb = mk("text", {x:cfg.rowLabelX, y:y+2.8, "font-size":cfg.rowFont, fill:"#222", "text-anchor":"end"}, g);
    lb.textContent = cfg.rows[r];
    
    
  }
  xs.forEach((x, j) => {
    const vl = mk("line", {x1:x, x2:x, y1:cfg.rowY0-3, y2:cfg.rowY0+(nr-1)*cfg.rowStep+3, stroke:"#e3e3e8", "stroke-width":0.5}, g);
    
    
    const lb = mk("text", {x:x+2.6, y:cfg.labelY, "font-size":7.6, fill:"#222", "text-anchor":"end", transform:"rotate(-90 "+(x+2.6)+" "+cfg.labelY+")"}, g);
    lb.textContent = cfg.genes[j];
    
    
    const s = cfg.vals[j];
    for (let r=0;r<nr;r++){
      const v = +s[r];
      const rad = v===0 ? 0.45 : 0.6 + v*(cfg.rmax-0.6)/9;
      const d = mk("circle", {cx:x, cy:cfg.rowY0 + r*cfg.rowStep, r:rad, fill:v===0?"#d0d4e6":expColor(v)}, g);
      
      
    }
  });
  const L = cfg.legend;
  const gr = mk("rect", {x:L.gx0, y:L.gy0, width:L.gx1-L.gx0, height:L.gy1-L.gy0, fill:"url(#grad)"}, g);
  
  
  const at = mk("text", {x:L.atx, y:L.aty, "font-size":9, fill:"#000", "text-anchor":L.atAnchor}, g);
  at.textContent = "Average Expression";
  
  
  L.gTicks.forEach((t, k) => {
    const tx = mk("text", {x:L.gTickX[k], y:L.gy1+10, "font-size":8, fill:"#000", "text-anchor":"middle"}, g);
    tx.textContent = t;
    
    
  });
  const pt = mk("text", {x:L.ptx, y:L.pty, "font-size":9, fill:"#000"}, g);
  pt.textContent = "Percent Expressed";
  
  
  L.pLabels.forEach((t, k) => {
    const c = mk("circle", {cx:L.pDotX[k], cy:L.pty-3, r:L.pR[k], fill:"#000"}, g);
    
    
    const tx = mk("text", {x:L.pLabX[k], y:L.pty, "font-size":8.5, fill:"#000", "text-anchor":"middle"}, g);
    tx.textContent = t;
    
    
  });
}
drawDot({name:"panel-b-dotplot", rows:bRows, genes:bGenes, vals:bVals, groupSizes:bGroupSizes, groupColors:bGroupColors,
  groupX:[[557.6,602],[605.7,632.3],[636,680.5],[684.2,710.4],[714.1,724.4],[728.1,737.5],[741.2,767.8],[771.6,815.9],[819.7,863.6],[867.4,902.4],[906.1,924.3],[928.1,964],[967.8,1011.7],[1015,1058.9],[1062.6,1106.5],[1110.3,1154.2],[1157.9,1201.4]],
  barY0:35, barY1:46, rowY0:50.5, rowStep:7.08, rowLabelX:552.5, rowFont:7.6, labelY:166.5, rmax:3.8,
  legend:{gx0:919.7, gx1:1003, gy0:223, gy1:240, atx:828.6, aty:241, atAnchor:"start", gTicks:["-2","-1","0","1","2"], gTickX:[922,942,961,981,1000],
    ptx:562, pty:234, pLabels:["25","50","75","100"], pDotX:[656,677,698,721], pR:[0.9,1.7,2.5,3.3], pLabX:[666,687,709,735]}});
drawDot({name:"panel-e-dotplot", rows:eRows, genes:eGenes, vals:eVals, groupSizes:eGroupSizes, groupColors:eGroupColors,
  groupX:[[544.5,584.2],[588,637],[640.8,689.8],[693,732.8],[736.5,775.8],[779.5,819.2],[822.5,871.5],[875.3,924.3],[927.6,977.1],[980.9,1020.1],[1023.8,1072.9],[1076.6,1115.9],[1119.6,1149.5],[1153.3,1202.3]],
  barY0:555.5, barY1:566.7, rowY0:571.9, rowStep:8.15, rowLabelX:538.9, rowFont:7.8, labelY:688.4, rmax:4.2,
  legend:{gx0:641.7, gx1:731.9, gy0:743.3, gy1:760.9, atx:634.7, aty:760, atAnchor:"end", gTicks:["-2","-1","0","1","2"], gTickX:[646,664,683,702,720],
    ptx:751, pty:752.4, pLabels:["0","25","50","75","100"], pDotX:[851,884.6,924.3,963,1002.8], pR:[0.5,1.3,2.2,3.1,4.2], pLabX:[867,903,943,983,1024]}});
drawDot({name:"panel-h-dotplot", rows:hRows, genes:hGenes, vals:hVals, groupSizes:hGroupSizes, groupColors:hGroupColors,
  groupX:[[542.6,577.7],[581,626.7],[630,675.8],[679,725.8],[728.6,774.8],[778.1,834.6],[838.4,894.9],[898.6,955.2],[958.9,1005.2],[1008.4,1065],[1068.7,1114.5],[1117.8,1152.8],[1156.5,1202.3]],
  barY0:1075.8, barY1:1087.3, rowY0:1092.5, rowStep:8.42, rowLabelX:536.6, rowFont:7.8, labelY:1204.1, rmax:4.0,
  legend:{gx0:639.4, gx1:730.4, gy0:1263.2, gy1:1281.5, atx:634, aty:1280, atAnchor:"end", gTicks:["0","1","2"], gTickX:[661,686,712],
    ptx:751, pty:1273, pLabels:["0","25","50","75"], pDotX:[849.6,883.2,922,961.7], pR:[0.5,1.5,2.6,3.8], pLabX:[865,902,941,980]}});

// ================= UMAPs =================
function drawUmap(name, blobs, labels){
  const g = grp(name);
  blobs.forEach(b => {
    const e = mk("ellipse", {cx:b[0], cy:b[1], rx:b[2], ry:b[3], fill:b[4], opacity:b[5]||0.95, filter:"url(#blur)"}, g);
    
    
  });
  labels.forEach(l => {
    const t = mk("text", {x:l[0], y:l[1]+3.2, "font-size":8.8, "font-weight":"bold", fill:"#000", "text-anchor":"middle"}, g);
    t.textContent = l[2];
    let w = 8;
    try { w = t.getComputedTextLength(); } catch(e) { w = l[2].length*5; }
    if (!w) w = l[2].length*5;
    const r = mk("rect", {x:l[0]-w/2-3.5, y:l[1]-6.6, width:w+7, height:13.2, rx:2, fill:l[3], stroke:"#222", "stroke-width":0.6}, g);
    
    
    g.appendChild(t);
    
    
  });
}
drawUmap("panel-a-umap", [
  [209,165,37,55,"#8adb78"],[205,225,30,25,"#8adb78"],[165,110,18,24,"#22b2c5"],[279,89,17,12,"#b48980"],
  [390,225,38,18,"#b59dca",0.8],[335,175,22,9,"#b59dca",0.6],
  [180,245,28,22,"#9dbbe2",0.7],
  [261,304,88,74,"#1d5fa3"],[300,250,62,46,"#1d5fa3"],[205,290,30,30,"#1d5fa3"],
  [131,178,46,30,"#2a9526"],[165,200,30,20,"#2a9526"],[270,165,15,15,"#fd8585"],[300,222,34,21,"#cb1425"],
  [116,214,20,17,"#cb1425"],[95,240,34,30,"#9dbbe2"],[105,268,30,18,"#9dbbe2"],[180,262,14,9,"#6b6b6b"],
  [80,290,19,20,"#fbad68"],[132,330,55,36,"#ff6a0e"],[170,360,30,20,"#ff6a0e"],[108,394,32,22,"#7a4239"],
  [247,371,40,23,"#acb020"],[160,398,32,24,"#7f4eae"],[170,448,50,44,"#7f4eae"],[113,440,15,18,"#d75ab7"]
],[
  [292,70.3,"Mac.T","#b48980"],[173,86.3,"Mac.Interstitial","#22b2c5"],[203.5,161.2,"Mac.Mono.Deriv","#8adb78"],
  [279,190,"AM.MT","#fd8585"],[131.5,192.4,"AM.CCL","#2a9526"],[289,215,"AM.CCL18","#cb1425"],
  [384.6,232,"Mac.Prolif","#b59dca"],[86,255.4,"AM.Lipid","#9dbbe2"],[171.6,280,"AM.IFN","#6b6b6b"],
  [87.4,305.7,"AM.Lipid.APOC2","#fbad68"],[246.5,314,"AM","#1d5fa3"],[117.6,347.5,"AM.APOC2","#ff6a0e"],
  [120.2,385.4,"AM.IFI27.APOC2","#7a4239"],[232.5,377.8,"AM.IGF1","#acb020"],[178.2,432,"AM.IFI27","#7f4eae"],
  [105.7,456,"AM.IFI27.CCL18","#d75ab7"]
]);
drawUmap("panel-d-umap", [
  [174,597,24,13,"#9b3033",0.8],[168,640,5,8,"#9b3033",0.7],
  [215,640,30,30,"#a8c858",0.7],[215,712,44,44,"#a8c858",0.7],[218,752,28,28,"#a8c858",0.6],
  [279,722,14,36,"#cc4455",0.7],[290,768,10,14,"#cc4455",0.6],
  [145,658,11,7,"#5a52c0",0.8],[70,711,6,6,"#b08a30",0.8],
  [92,762,28,32,"#8e3a80",0.7],[113,699,9,9,"#8e3a80",0.6],
  [186,812,48,40,"#e0a840",0.65],[205,788,20,12,"#c050b0",0.3],
  [99,861,17,22,"#e0c080",0.6],[151,847,14,14,"#e08088",0.6],
  [174,893,52,34,"#d488cc",0.65],[267,835,20,30,"#d488cc",0.55],
  [168,954,16,25,"#c8d890",0.6],[221,998,15,12,"#8a8ad8",0.8],[430,826,6,12,"#7a9040",0.85]
],[
  [159.7,613.6,"NK","#9b3033"],[132,672.5,"γδ T","#5a52c0"],[79,698.6,"NKT","#b08a30"],
  [203.8,719.5,"CD8 T-rm","#a8c858"],[273,750.3,"CD8 T-GZMK","#cc4455"],[86.2,771.5,"ILC","#8e3a80"],
  [204.4,787.5,"CD4 T-rm","#c050b0"],[177,816.2,"CD8 T-inflam","#e0a840"],[396,814.8,"Prolif T/NK","#7a9040"],
  [92.3,838,"CD4 T-naïve","#e0c080"],[169,865.6,"CD4 T-IFN","#e08088"],[214.8,888.8,"CD4 T","#d488cc"],
  [175.6,930.9,"CD4 T-NFκB","#c8d890"],[234.3,986.6,"CD4 T-reg","#8a8ad8"]
]);
drawUmap("panel-g-umap", [
  [239.5,1106,3,3,"#90bedd"],[293,1147,5,3,"#5ba0cc"],
  [357,1138,17,30,"#2a6db0"],[345,1175,18,18,"#2a6db0"],[354,1212,22,20,"#2a6db0"],
  [142,1164,4,8,"#d94018"],[78,1294,17,10,"#f8a058"],
  [178,1258,10,6,"#66bb66",0.8],[200,1276,10,5,"#66bb66",0.8],
  [244,1272,12,17,"#858585",0.8],[226,1237,5,4,"#858585"],[294,1254,3,4,"#f87a30"],
  [215,1303,17,25,"#2a9441",0.9],[203,1347,22,24,"#2a9441",0.9],[192,1392,22,18,"#2a9441"],
  [258,1392,32,40,"#8e88be"],
  [382,1270,3,16,"#505050"],[382,1305,2,10,"#505050"],
  [378,1332,5,6,"#2a9441"],[389,1360,5,12,"#94d48a"],[405,1385,10,7,"#94d48a"],[428,1394,10,4,"#94d48a"],
  [388,1499,22,31,"#6455a0"]
],[
  [250,1095,"Plasma B","#90bedd"],[132.7,1175.4,"cDC1","#d94018"],[281.6,1159,"HSP+ B","#5ba0cc"],
  [370,1159,"B","#2a6db0"],[186.4,1249,"Mig DC","#66bb66"],[254.6,1252,"Neut-like","#858585"],
  [304,1242.3,"Mast","#f87a30"],[82,1283.7,"pDC","#f8a058"],[371.3,1295.7,"Div innate","#505050"],
  [193.6,1383,"cDC2","#2a9441"],[246.5,1407.4,"Mono","#8e88be"],[394,1402.7,"Secretory epi","#94d48a"],
  [399,1488.5,"Ciliated epi","#6455a0"]
]);
</script>
</body></html>
